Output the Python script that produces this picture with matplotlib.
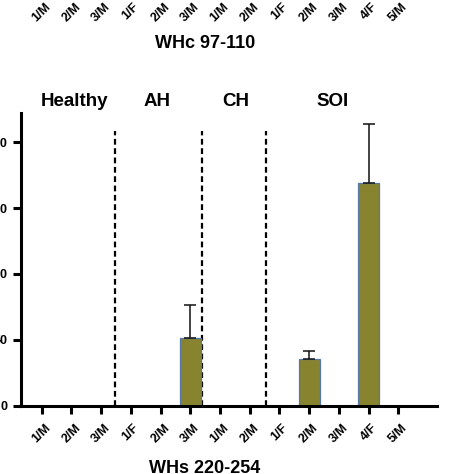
import numpy as np
import matplotlib
matplotlib.use("Agg")
import matplotlib.pyplot as plt
import matplotlib.transforms as mtransforms

plt.rcParams["font.family"] = ["Liberation Sans", "DejaVu Sans"]
plt.rcParams["font.weight"] = "bold"

# ── data ──────────────────────────────────────────────────────────────────────
groups = ["Healthy", "AH", "CH", "SOI"]
group_pos = [1.09, 3.88, 6.53, 9.78]
separators = [2.45, 5.40, 7.55]
labels = ["1/M", "2/M", "3/M", "1/F", "2/M", "3/M", "1/M", "2/M",
          "1/F", "2/M", "3/M", "4/F", "5/M"]
top_labels = labels[:]
values = [0, 0, 0, 0, 0, 51.5, 0, 0, 0, 35.5, 0, 169, 0]
errors = [0, 0, 0, 0, 0, 25, 0, 0, 0, 6, 0, 45, 0]
yticks = [0, 50, 100, 150, 200]
top_title = "WHc 97-110"
bottom_title = "WHs 220-254"

BAR = "#88832f"
EDGE = "#5577aa"

# ── figure ────────────────────────────────────────────────────────────────────
W = 474
fig = plt.figure(figsize=(4.74, 4.74), dpi=100, facecolor="white")
left, right = 20.5 / W, 436.7 / W
bottom, top = 1 - 405.5 / W, 1 - 113.3 / W
ax = fig.add_axes([left, bottom, right - left, top - bottom])

x = np.arange(len(labels))
ax.bar(x, values, width=0.71, color=BAR, edgecolor=EDGE, linewidth=0.9, zorder=2)
ex = [i for i in x if errors[i] > 0]
ax.errorbar(ex, [values[i] for i in ex],
            yerr=[[0] * len(ex), [errors[i] for i in ex]],
            fmt="none", ecolor="#111111", elinewidth=1.1, capsize=4.5,
            capthick=1.1, zorder=3)

ax.vlines(separators, 0, 208.5, colors="black", linewidth=1.6,
          linestyles=(0, (2.6, 1.6)), zorder=1)

ax.set_xlim(-0.713, 13.29)
ax.set_ylim(0, 222)
ax.set_yticks(yticks)
ax.set_xticks(x)
ax.set_xticklabels(labels, rotation=45, ha="center", va="top",
                   fontsize=9, fontweight="bold")
for lab in ax.get_xticklabels():
    lab.set_transform(lab.get_transform() +
                      mtransforms.ScaledTranslation(2 / 100, 0, fig.dpi_scale_trans))
ax.tick_params(axis="both", length=5.5, width=2.2, color="black")
ax.tick_params(axis="x", pad=6)
ax.tick_params(axis="y", labelsize=9, pad=4)
for t in ax.get_yticklabels():
    t.set_fontweight("bold")

for s in ["top", "right"]:
    ax.spines[s].set_visible(False)
for s in ["left", "bottom"]:
    ax.spines[s].set_linewidth(2.2)
    ax.spines[s].set_color("black")

for g, gx in zip(groups, group_pos):
    ax.text(gx, 230.8, g, ha="center", va="center", fontsize=13.5,
            fontweight="bold", clip_on=False)

# ── labels of the panel above (cut off) ───────────────────────────────────
ax_top = fig.add_axes([left, 1 + 12.5 / W, right - left, 0.1])
ax_top.set_xlim(ax.get_xlim())
ax_top.set_xticks(x)
ax_top.set_xticklabels(top_labels, rotation=45, ha="center", va="top",
                       fontsize=9, fontweight="bold")
for lab in ax_top.get_xticklabels():
    lab.set_transform(lab.get_transform() +
                      mtransforms.ScaledTranslation(1 / 100, 0, fig.dpi_scale_trans))
ax_top.tick_params(axis="x", length=5.5, width=2.2, pad=4)
ax_top.set_yticks([])
for sp in ax_top.spines.values():
    sp.set_visible(False)
ax_top.patch.set_alpha(0)

fig.text(205 / W, 1 - 44 / W, top_title, ha="center", va="center",
         fontsize=13, fontweight="bold")
fig.text(205 / W, 1 - 468.5 / W, bottom_title, ha="center", va="center",
         fontsize=13, fontweight="bold")

fig.savefig("out.png", dpi=100, facecolor="white")
